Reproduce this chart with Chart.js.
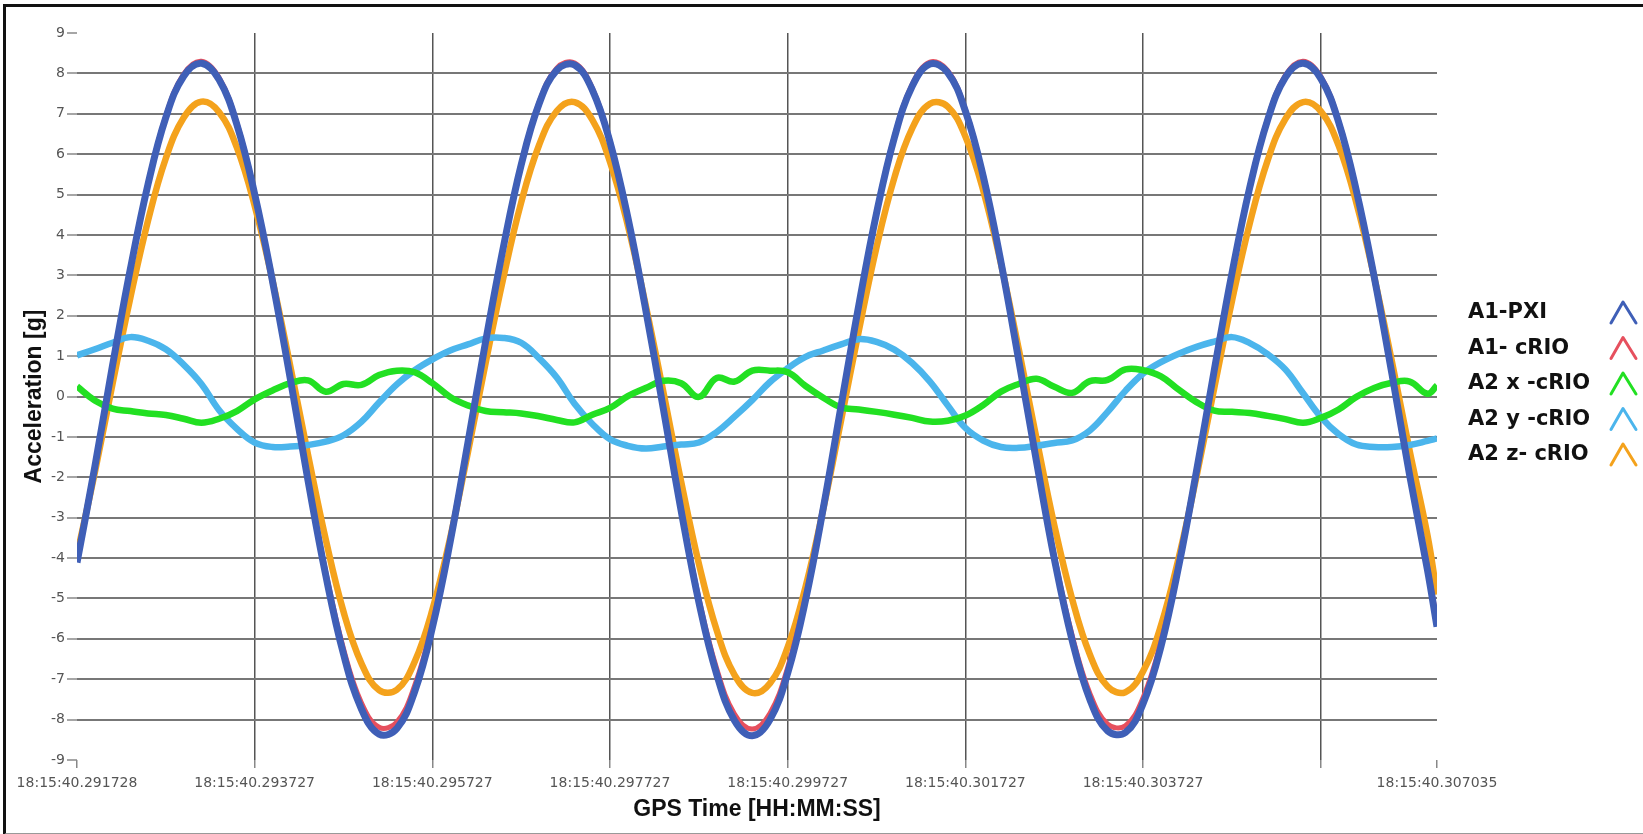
<!DOCTYPE html>
<html>
<head>
<meta charset="utf-8">
<title>Acceleration</title>
<script src="https://cdn.jsdelivr.net/npm/chart.js@4.4.1/dist/chart.umd.min.js"></script>
<style>
  body { margin: 0; background: #fff; }
  #wrap { position: relative; width: 1643px; height: 834px; }
  #frame { position: absolute; left: 3px; top: 4px; width: 1640px; height: 826px;
           border-top: 3px solid #111; border-left: 3px solid #111; border-bottom: 2px solid #999;
           pointer-events: none; }
</style>
</head>
<body>
<div id="wrap">
  <canvas id="acc" width="1643" height="834"></canvas>
  <div id="frame"></div>
</div>
<script>
// time in ms after 18:15:40
let timeMs = [291.728, 291.928, 292.128, 292.328, 292.528, 292.728, 292.928, 293.128, 293.328, 293.528,
  293.728, 293.928, 294.128, 294.328, 294.528, 294.728, 294.928, 295.128, 295.328, 295.528,
  295.728, 295.928, 296.128, 296.328, 296.528, 296.728, 296.928, 297.128, 297.328, 297.528,
  297.728, 297.928, 298.128, 298.328, 298.528, 298.728, 298.928, 299.128, 299.328, 299.528,
  299.728, 299.928, 300.128, 300.328, 300.528, 300.728, 300.928, 301.128, 301.328, 301.528,
  301.728, 301.928, 302.128, 302.328, 302.528, 302.728, 302.928, 303.128, 303.328, 303.528,
  303.728, 303.928, 304.128, 304.328, 304.528, 304.728, 304.928, 305.128, 305.328, 305.528,
  305.728, 305.928, 306.128, 306.328, 306.528, 306.728, 306.928, 307.035];

let a1Pxi = [-4.11, -1.75, 0.77, 3.15, 5.26, 6.91, 7.93, 8.25, 7.84, 6.73,
  5.01, 2.86, 0.45, -2.08, -4.43, -6.38, -7.73, -8.36, -8.22, -7.31,
  -5.72, -3.60, -1.14, 1.37, 3.71, 5.74, 7.24, 8.08, 8.21, 7.59,
  6.29, 4.43, 2.16, -0.31, -2.83, -5.10, -6.88, -8.02, -8.40, -8.00,
  -6.84, -5.04, -2.76, -0.23, 2.27, 4.55, 6.41, 7.68, 8.23, 8.02,
  7.06, 5.45, 3.32, 0.89, -1.62, -4.02, -6.03, -7.50, -8.28, -8.32,
  -7.60, -6.19, -4.20, -1.85, 0.65, 3.06, 5.18, 6.84, 7.90, 8.25,
  7.87, 6.79, 5.09, 2.96, 0.56, -1.96, -4.30, -5.70];

let a1Crio = [-4.03, -1.72, 0.77, 3.17, 5.29, 6.95, 7.98, 8.30, 7.89, 6.77,
  5.04, 2.88, 0.45, -2.04, -4.34, -6.25, -7.58, -8.19, -8.06, -7.16,
  -5.61, -3.53, -1.12, 1.38, 3.73, 5.77, 7.28, 8.13, 8.26, 7.64,
  6.33, 4.46, 2.17, -0.30, -2.77, -5.00, -6.74, -7.86, -8.23, -7.84,
  -6.70, -4.94, -2.70, -0.23, 2.28, 4.58, 6.45, 7.73, 8.28, 8.07,
  7.10, 5.48, 3.34, 0.90, -1.59, -3.94, -5.91, -7.35, -8.11, -8.15,
  -7.45, -6.07, -4.12, -1.81, 0.65, 3.08, 5.21, 6.88, 7.95, 8.30,
  7.92, 6.83, 5.12, 2.98, 0.56, -1.92, -4.21, -5.59];

let a2xCrio = [0.25, -0.10, -0.30, -0.36, -0.42, -0.46, -0.55, -0.65, -0.55, -0.36,
  -0.07, 0.15, 0.33, 0.40, 0.12, 0.31, 0.29, 0.53, 0.64, 0.60,
  0.33, -0.01, -0.22, -0.36, -0.39, -0.42, -0.49, -0.58, -0.64, -0.45,
  -0.28, 0.01, 0.21, 0.39, 0.33, -0.01, 0.46, 0.37, 0.64, 0.64,
  0.60, 0.26, -0.03, -0.27, -0.32, -0.38, -0.45, -0.53, -0.62, -0.60,
  -0.47, -0.21, 0.12, 0.31, 0.44, 0.24, 0.09, 0.38, 0.41, 0.67,
  0.65, 0.50, 0.17, -0.14, -0.35, -0.38, -0.41, -0.48, -0.56, -0.65,
  -0.53, -0.32, -0.01, 0.21, 0.34, 0.37, 0.07, 0.27];

let a2yCrio = [1.02, 1.17, 1.33, 1.47, 1.38, 1.17, 0.79, 0.31, -0.34, -0.80,
  -1.14, -1.25, -1.24, -1.20, -1.12, -0.96, -0.63, -0.15, 0.30, 0.65,
  0.92, 1.14, 1.29, 1.44, 1.45, 1.33, 0.95, 0.47, -0.18, -0.68,
  -1.06, -1.22, -1.29, -1.24, -1.19, -1.14, -0.88, -0.50, -0.09, 0.36,
  0.70, 0.98, 1.14, 1.29, 1.42, 1.35, 1.16, 0.83, 0.37, -0.22,
  -0.78, -1.09, -1.25, -1.27, -1.22, -1.15, -1.09, -0.84, -0.38, 0.14,
  0.57, 0.85, 1.06, 1.23, 1.36, 1.47, 1.32, 1.05, 0.67, 0.08,
  -0.51, -0.93, -1.19, -1.25, -1.25, -1.20, -1.10, -1.04];

let a2zCrio = [-3.92, -1.89, 0.31, 2.44, 4.36, 5.90, 6.90, 7.30, 7.04, 6.16,
  4.72, 2.88, 0.76, -1.44, -3.54, -5.33, -6.60, -7.27, -7.26, -6.57,
  -5.28, -3.50, -1.38, 0.84, 2.95, 4.81, 6.22, 7.07, 7.29, 6.85,
  5.80, 4.23, 2.27, 0.11, -2.11, -4.15, -5.79, -6.89, -7.34, -7.10,
  -6.20, -4.71, -2.78, -0.59, 1.63, 3.71, 5.42, 6.64, 7.25, 7.18,
  6.43, 5.10, 3.28, 1.17, -1.05, -3.19, -5.01, -6.39, -7.18, -7.32,
  -6.80, -5.67, -3.99, -1.98, 0.21, 2.37, 4.29, 5.84, 6.87, 7.29,
  7.06, 6.21, 4.79, 2.96, 0.86, -1.35, -3.44, -4.90];

// x ticks (the one at 305.727 has a grid line but no label)
let tickTimes = [291.728, 293.727, 295.727, 297.727, 299.727, 301.727, 303.727, 305.727, 307.035];
let tickLabels = ['18:15:40.291728', '18:15:40.293727', '18:15:40.295727', '18:15:40.297727',
  '18:15:40.299727', '18:15:40.301727', '18:15:40.303727', '', '18:15:40.307035'];

let seriesNames = ['A1-PXI', 'A1- cRIO', 'A2 x -cRIO', 'A2 y -cRIO', 'A2 z- cRIO'];
let seriesColors = ['#3f5fb7', '#e6505e', '#22e022', '#4bb5ec', '#f4a21c'];
let seriesWidths = [7, 5, 6.5, 6.5, 6.5];

function toPoints(values) {
  return values.map((v, i) => ({ x: timeMs[i], y: v }));
}

let allSeries = [a1Pxi, a1Crio, a2xCrio, a2yCrio, a2zCrio];
let datasets = [];
for (let i = 0; i < allSeries.length; i++) {
  datasets.push({
    label: seriesNames[i],
    data: toPoints(allSeries[i]),
    borderColor: seriesColors[i],
    backgroundColor: seriesColors[i],
    borderWidth: seriesWidths[i],
    pointRadius: 0,
    tension: 0.4,
    fill: false
  });
}

// legend on the right: bold name, then a little "^" in the series colour
const sideLegend = {
  id: 'sideLegend',
  afterDraw(chart) {
    const ctx = chart.ctx;
    ctx.save();
    ctx.font = 'bold 21px "DejaVu Sans"';
    ctx.textBaseline = 'middle';
    ctx.textAlign = 'left';
    chart.data.datasets.forEach((ds, i) => {
      let y = 313 + i * 35.5;
      ctx.fillStyle = '#111';
      ctx.fillText(ds.label, 1468, y);
      ctx.strokeStyle = ds.borderColor;
      ctx.lineWidth = 3;
      ctx.lineJoin = 'round';
      ctx.lineCap = 'round';
      ctx.beginPath();
      ctx.moveTo(1611, y + 10);
      ctx.lineTo(1623, y - 11);
      ctx.lineTo(1636, y + 10);
      ctx.stroke();
    });
    ctx.restore();
  }
};

const tickFont = { family: 'DejaVu Sans', size: 14 };
const titleFont = { family: 'Liberation Sans', size: 23, weight: 'bold' };

new Chart(document.getElementById('acc'), {
  type: 'line',
  data: { datasets: datasets },
  options: {
    responsive: false,
    animation: false,
    layout: { padding: { top: 33, right: 206, left: 0, bottom: 0 } },
    plugins: { legend: { display: false }, tooltip: { enabled: false } },
    scales: {
      x: {
        type: 'linear',
        min: 291.728,
        max: 307.035,
        afterBuildTicks: axis => { axis.ticks = tickTimes.map(v => ({ value: v })); },
        afterFit: scale => { scale.height = 74; },
        ticks: {
          autoSkip: false,
          maxRotation: 0,
          padding: 7,
          color: '#555',
          font: tickFont,
          callback: (v, i) => tickLabels[i]
        },
        grid: {
          color: c => (c.index === 0 || c.index === tickTimes.length - 1) ? 'rgba(0,0,0,0)' : '#555',
          lineWidth: 1.5,
          tickLength: 8,
          tickColor: '#888',
          tickWidth: 1.5
        },
        border: { display: false },
        title: { display: true, text: 'GPS Time [HH:MM:SS]', color: '#111', font: titleFont, padding: { top: 0, bottom: 11 } }
      },
      y: {
        min: -9,
        max: 9,
        afterFit: scale => { scale.width = 77; },
        ticks: { stepSize: 1, padding: 2, color: '#555', font: tickFont },
        grid: {
          color: c => (c.tick && Math.abs(c.tick.value) === 9) ? 'rgba(0,0,0,0)' : '#777',
          lineWidth: 2,
          tickLength: 10,
          tickColor: '#888',
          tickWidth: 1.5
        },
        border: { display: false },
        title: { display: true, text: 'Acceleration [g]', color: '#111', font: titleFont, padding: { top: 21, bottom: 0 } }
      }
    }
  },
  plugins: [sideLegend]
});
</script>
</body>
</html>
